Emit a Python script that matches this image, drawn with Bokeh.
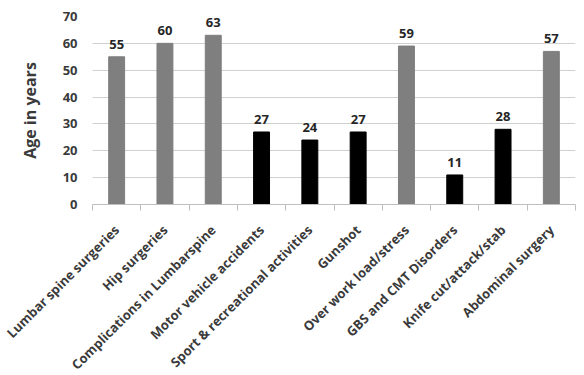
import math
from bokeh.plotting import figure
from bokeh.models import ColumnDataSource, Range1d, FixedTicker, LabelSet
from bokeh.core.properties import value
from bokeh.embed import file_html
from bokeh.resources import INLINE

categories = ["Lumbar spine surgeries", "Hip surgeries", "Complications in Lumbarspine",
              "Motor vehicle accidents", "Sport & recreational activities", "Gunshot",
              "Over work load/stress", "GBS and CMT Disorders", "Knife cut/attack/stab",
              "Abdominal surgery"]
ages = [55, 60, 63, 27, 24, 27, 59, 11, 28, 57]
groups = ["gray", "gray", "gray", "black", "black", "black", "gray", "black", "black", "gray"]
y_ticks = [0, 10, 20, 30, 40, 50, 60, 70]

color_map = {"gray": "#7f7f7f", "black": "#000000"}
xs = [i + 0.5 for i in range(len(categories))]
src = ColumnDataSource(dict(x=xs, top=ages, color=[color_map[g] for g in groups],
                            label=[str(a) for a in ages]))

FONT = "Open Sans"
p = figure(frame_width=483, frame_height=188, output_backend="svg", toolbar_location=None,
           x_range=Range1d(0, len(categories)), y_range=Range1d(0, 70),
           min_border_left=92, min_border_right=1, min_border_top=16, min_border_bottom=10)
p.outline_line_color = None
p.background_fill_color = "white"
p.border_fill_color = "white"

p.vbar(x="x", top="top", width=0.33, bottom=0, color="color", source=src)

labels = LabelSet(x="x", y="top", text="label", source=src, text_align="center",
                  text_baseline="bottom", y_offset=8, text_font=value(FONT),
                  text_font_style="bold", text_font_size="13px", text_color="#262626")
p.add_layout(labels)

# y axis
p.yaxis.ticker = FixedTicker(ticks=y_ticks)
p.yaxis.axis_line_color = None
p.yaxis.major_tick_line_color = None
p.yaxis.minor_tick_line_color = None
p.yaxis.major_tick_out = 0
p.yaxis.major_label_text_font = FONT
p.yaxis.major_label_text_font_style = "bold"
p.yaxis.major_label_text_font_size = "13px"
p.yaxis.major_label_text_color = "#3a3a3a"
p.yaxis.major_label_standoff = 15
p.yaxis.axis_label = "Age in years"
p.yaxis.axis_label_text_font = FONT
p.yaxis.axis_label_text_font_style = "bold"
p.yaxis.axis_label_text_font_size = "16px"
p.yaxis.axis_label_text_color = "#3a3a3a"
p.yaxis.axis_label_standoff = 19

p.ygrid.ticker = FixedTicker(ticks=y_ticks)
p.ygrid.grid_line_color = "#d0d0d0"
p.xgrid.grid_line_color = None

# x axis
p.xaxis.ticker = FixedTicker(ticks=xs, minor_ticks=list(range(len(categories) + 1)))
p.xaxis.major_label_overrides = {x: c for x, c in zip(xs, categories)}
p.xaxis.major_label_orientation = math.pi / 4
p.xaxis.major_tick_line_color = None
p.xaxis.minor_tick_line_color = "#bfbfbf"
p.xaxis.minor_tick_out = 6
p.xaxis.minor_tick_in = 0
p.xaxis.axis_line_color = "#bfbfbf"
p.xaxis.major_label_text_font = FONT
p.xaxis.major_label_text_font_style = "bold"
p.xaxis.major_label_text_font_size = "13px"
p.xaxis.major_label_text_color = "#3a3a3a"
p.xaxis.major_label_standoff = 17

open("out.html", "w").write(file_html(p, INLINE))
